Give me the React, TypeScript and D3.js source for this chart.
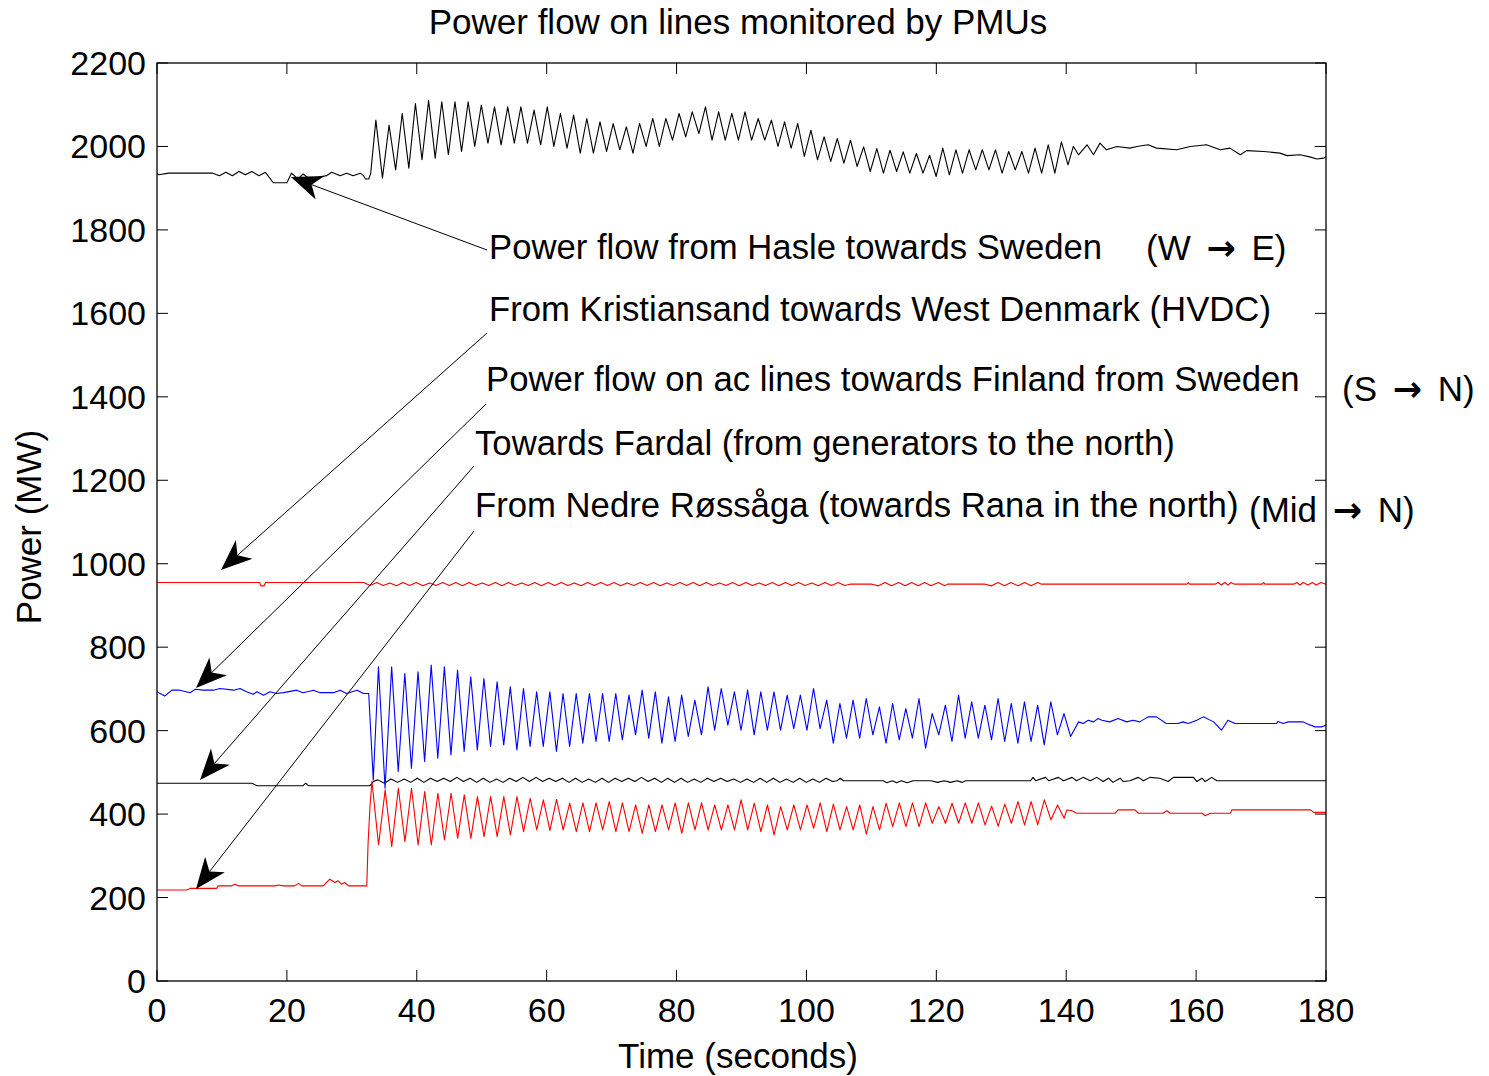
import React from "react";
import * as d3 from "d3";

type P = [number, number];

const xTicks = [0, 20, 40, 60, 80, 100, 120, 140, 160, 180];
const yTicks = [0, 200, 400, 600, 800, 1000, 1200, 1400, 1600, 1800, 2000, 2200];

const PERIOD = 2.03;

// ---- Power flow from Hasle towards Sweden (black, top)
const hasleLead: P[] = [[0,1935],[0.3,1932],[1.8,1936],[8.6,1936],[9.6,1930],[10.6,1938],[11.6,1930],[12.6,1940],[13.6,1932],[14.6,1940],[15.7,1930],[16.7,1938],[17.9,1913],[20.0,1913],[20.7,1936],[21.7,1922],[22.5,1934],[23.5,1922],[26.1,1930],[26.9,1938],[28.2,1930],[29.2,1936],[30.2,1930],[31.3,1936],[31.8,1930],[32.1,1922],[32.6,1922],[32.9,1935]];
const hasleStart = 33.7;
const haslePeaks = [2063,2051,2079,2103,2110,2107,2107,2107,2099,2095,2095,2095,2087,2095,
  2079,2075,2067,2059,2055,2047,2055,2067,2067,2079,2083,2095,2083,2079,2083,2067,2063,2059,2055,2039,2023,2019,2015,1999,1995,1991,1987,1983,1979,
  1996,1992,1992,1992,1992,1988,1988,1996,2004,2011];
const hasleTroughs = [1924,1944,1948,1968,1972,1980,1988,2000,2008,2004,2008,2008,2004,
  2000,1996,1984,1984,1988,1992,1984,2000,2000,2015,2023,2031,2015,2015,2015,2015,2015,2000,1996,1976,1968,1964,1960,1952,1940,1936,1940,1936,1936,1928,
  1932,1936,1944,1944,1936,1944,1936,1936,1936,1956];
const hasleTail: P[] = [[141.1,2000],[141.9,1980],[143.2,2004],[144.2,1980],[145.2,2008],[146.2,1992],[147.8,2000],[149.8,1996],[150.9,2000],[152.6,2004],[153.9,1996],[157.0,1992],[159.1,2000],[161.6,2004],[163.7,1992],[165.2,1996],[166.8,1980],[167.8,1990],[170.4,1988],[172.9,1984],[174.0,1978],[176.0,1980],[177.5,1975],[178.6,1970],[179.6,1972],[180,1975]];

// ---- Kristiansand towards West Denmark (HVDC) (red, ~950)
const hvdcLead: P[] = [[0,955],[15.8,955],[16.0,947],[16.5,947],[16.7,955],[31.0,955]];
const hvdcStart = 31.8;
const hvdcPeaks = [955,955,954,955,955,954,955,955,955,954,955,955,954,955,955,955,954,955,955,955,954,955,955,954,955,955,955,954,955,955,954,955,955,955,954,955,955];
const hvdcTroughs = [948,948,947,948,947,948,948,947,948,948,947,948,948,947,948,948,947,948,948,947,948,948,947,948,948,947,948,948,947,948,948,947,948,948,947,948,948];
const hvdcTail: P[] = [[106.7,951],[110.1,951],[111.1,947],[112.1,955],[113.1,947],[114.2,955],[115.2,947],[116.2,955],[117.2,947],[118.2,955],[119.2,947],[120.3,955],[121.3,947],[121.7,951],[127.5,951],[128.5,947],[129.5,955],[130.5,947],[131.5,955],[132.6,947],[133.6,955],[134.6,947],[135.6,955],[136.2,951],[158.6,951],[158.8,955],[159.0,951],[162.9,951],[163.4,955],[163.9,949],[164.4,955],[164.9,949],[165.4,955],[165.9,951],[170.2,951],[170.4,955],[170.6,951],[175.0,951],[175.5,955],[176.0,949],[176.5,955],[177.2,949],[177.9,955],[178.5,949],[179.2,955],[180,951]];

// ---- Power flow on ac lines towards Finland from Sweden (blue)
const finLead: P[] = [[0,693],[1.2,683],[2.3,697],[3.5,697],[5.1,691],[5.9,699],[7.1,697],[8.7,697],[9.7,701],[11.8,697],[12.8,701],[13.8,693],[14.8,687],[15.4,693],[16.4,685],[17.4,693],[18.4,689],[19.5,691],[21.5,697],[22.5,691],[24.1,697],[25.1,691],[27.2,691],[28.2,697],[29.2,689],[30.8,697],[31.8,689],[32.6,689],[33.3,482]];
const finStart = 34.1;
const finPeaks = [753,753,737,741,757,753,745,729,725,717,705,701,693,
  693,689,689,689,689,689,685,697,693,681,685,673,705,701,693,697,693,693,685,685,701,673,665,673,677,657,665,653,677,641,
  661,685,669,661,677,665,669,661,669,641];
const finTroughs = [462,502,510,526,534,542,550,554,562,566,554,562,562,
  550,562,570,574,574,578,590,582,570,574,586,590,601,613,601,590,601,601,605,601,605,570,582,582,590,570,578,582,558,
  590,574,582,582,578,574,570,574,566,590,586];
const finTail: P[] = [[141.9,621],[142.6,617],[143.4,625],[144.2,621],[144.9,629],[145.5,625],[146.7,621],[148.0,629],[149.3,621],[150.3,625],[151.3,621],[152.6,633],[153.9,633],[155.4,617],[157.2,617],[158.0,621],[158.8,617],[160.1,625],[161.1,633],[162.7,621],[163.9,601],[164.9,625],[166.0,617],[172.4,617],[172.6,622],[173.4,617],[174.2,621],[176.5,621],[177.0,617],[178.3,609],[179.3,609],[180,613]];

// ---- Towards Fardal (black, ~470)
const fardalLead: P[] = [[0,474],[14.6,474],[15.4,468],[22.5,468],[22.9,474],[23.3,468],[32.8,468],[33.3,478]];
const fardalStart = 34.0;
const fardalPeaks = [482,484,484,486,486,486,488,486,486,484,486,488,488,486,486,486,484,486,486,486,488,486,486,486,484,486,486,484,484,486,486,484,486,484,486];
const fardalTroughs = [474,476,476,476,478,478,478,476,476,476,478,478,478,478,476,476,476,476,478,478,478,476,476,476,476,478,478,476,476,476,476,476,476,476,478];
const fardalTail: P[] = [[104.7,480],[105.2,486],[105.7,480],[111.8,480],[112.4,475],[113.2,480],[113.9,475],[114.6,480],[115.5,475],[116.4,480],[119.2,480],[120.2,476],[121.2,480],[122.2,476],[123.2,480],[124.0,476],[124.5,480],[134.5,480],[134.9,488],[135.3,480],[136.8,488],[137.3,480],[138.8,488],[139.6,480],[140.9,488],[141.6,480],[142.6,488],[143.7,480],[144.7,488],[145.7,478],[146.5,486],[147.2,476],[148.3,486],[148.8,478],[149.8,480],[151.1,488],[151.9,480],[152.9,488],[154.4,486],[155.7,478],[156.5,488],[159.6,488],[160.1,478],[160.9,486],[161.4,478],[162.4,488],[163.2,480],[180,480]];

// ---- From Nedre Røssåga (red, bottom)
const rossagaLead: P[] = [[0,218],[4.6,218],[5.1,222],[9.2,222],[9.4,228],[11.5,228],[12.0,232],[12.5,228],[18.2,228],[18.7,230],[19.5,228],[21.2,228],[21.8,234],[22.3,228],[25.6,228],[26.6,244],[27.4,236],[27.9,240],[28.4,232],[28.9,236],[29.5,228],[32.3,228],[32.5,330],[32.8,420]];
const rossagaStart = 33.1;
const rossagaPeaks = [478,458,462,462,454,450,450,446,442,442,442,442,438,434,
  435,426,427,427,430,427,422,422,422,427,427,427,422,422,434,426,422,418,422,422,427,424,418,422,418,426,427,427,427,418,
  426,427,427,419,424,430,430,434,422];
const rossagaTroughs = [326,322,334,326,326,338,342,342,346,346,350,358,362,
  361,362,358,358,362,358,358,354,358,362,354,362,362,362,362,362,358,350,362,362,366,358,362,362,352,362,370,370,370,378,
  378,378,378,374,371,378,374,374,386,390];
const rossagaTail: P[] = [[140.1,410],[140.9,408],[141.6,402],[147.5,402],[148.0,410],[150.6,410],[151.1,402],[154.9,402],[155.5,408],[156.0,402],[160.9,402],[161.4,396],[162.2,402],[165.3,402],[165.5,410],[177.6,410],[178.1,404],[180,404]];

const annotations = [
  "Power flow from Hasle towards Sweden",
  "From Kristiansand towards West Denmark (HVDC)",
  "Power flow on ac lines towards Finland from Sweden",
  "Towards Fardal (from generators to the north)",
  "From Nedre Røssåga (towards Rana in the north)",
];
const directions: [string, string][] = [["(W ", "E)"], ["(S ", "N)"], ["(Mid ", "N)"]];

function buildSeries(lead: P[], start: number, peaks: number[], troughs: number[], tail: P[]): P[] {
  const pts: P[] = [...lead];
  peaks.forEach((p, i) => {
    pts.push([start + i * PERIOD, p]);
    pts.push([start + (i + 0.5) * PERIOD, troughs[i]]);
  });
  return pts.concat(tail);
}

const FONT = "Arial, 'Liberation Sans', sans-serif";

function Arrow({ x1, y1, x2, y2 }: { x1: number; y1: number; x2: number; y2: number }) {
  const dx = x1 - x2, dy = y1 - y2;
  const len = Math.hypot(dx, dy);
  const ux = dx / len, uy = dy / len;
  const nx = -uy, ny = ux;
  const L = 31, Wd = 12.5, N = 22;
  const p1 = [x2 + ux * L + nx * Wd, y2 + uy * L + ny * Wd];
  const p2 = [x2 + ux * N, y2 + uy * N];
  const p3 = [x2 + ux * L - nx * Wd, y2 + uy * L - ny * Wd];
  return (
    <g>
      <line x1={x1} y1={y1} x2={p2[0]} y2={p2[1]} stroke="#000" strokeWidth={1} />
      <path d={`M${x2},${y2}L${p1[0]},${p1[1]}L${p2[0]},${p2[1]}L${p3[0]},${p3[1]}Z`} fill="#000" />
    </g>
  );
}

export default function App() {
  const W = 1489, H = 1076;
  const left = 157, right = 1326, top = 63, bottom = 981;
  const x = d3.scaleLinear().domain([0, 180]).range([left, right]);
  const y = d3.scaleLinear().domain([0, 2200]).range([bottom, top]);
  const line = d3.line<P>().x((d) => x(d[0])).y((d) => y(d[1]));

  const series = [
    { d: buildSeries(hasleLead, hasleStart, haslePeaks, hasleTroughs, hasleTail), c: "#000" },
    { d: buildSeries(hvdcLead, hvdcStart, hvdcPeaks, hvdcTroughs, hvdcTail), c: "#ff0000" },
    { d: buildSeries(fardalLead, fardalStart, fardalPeaks, fardalTroughs, fardalTail), c: "#000" },
    { d: buildSeries(rossagaLead, rossagaStart, rossagaPeaks, rossagaTroughs, rossagaTail), c: "#ff0000" },
    { d: buildSeries(finLead, finStart, finPeaks, finTroughs, finTail), c: "#0000ff" },
  ];

  const tickLen = 11;
  const fs = 34;
  const fsT = 35;
  const fsA = 34.7;

  const textPos = [
    { x: 489, y: 259 },
    { x: 489, y: 321 },
    { x: 486, y: 391 },
    { x: 475, y: 455 },
    { x: 475, y: 517 },
  ];
  const dirPos = [
    { x: 1146, y: 260 },
    { x: 1342, y: 401 },
    { x: 1249, y: 522 },
  ];
  const arrows = [
    { x1: 487, y1: 250, x2: 291, y2: 177 },
    { x1: 487, y1: 333, x2: 221, y2: 570 },
    { x1: 486, y1: 404, x2: 196, y2: 688 },
    { x1: 474, y1: 466, x2: 200, y2: 780 },
    { x1: 474, y1: 531, x2: 196, y2: 889 },
  ];

  return (
    <div style={{ position: "absolute", left: 0, top: 0 }}>
      <svg width={W} height={H} style={{ display: "block", background: "#fff" }} fontFamily={FONT}>
        <rect x={0} y={0} width={W} height={H} fill="#fff" />
        {series.map((s, i) => (
          <path key={i} d={line(s.d) || ""} fill="none" stroke={s.c} strokeWidth={1.1} strokeLinejoin="round" />
        ))}
        <rect x={left} y={top} width={right - left} height={bottom - top} fill="none" stroke="#000" strokeWidth={1.3} />
        {xTicks.map((t) => (
          <g key={"x" + t}>
            <line x1={x(t)} x2={x(t)} y1={bottom} y2={bottom - tickLen} stroke="#000" strokeWidth={1} />
            <line x1={x(t)} x2={x(t)} y1={top} y2={top + tickLen} stroke="#000" strokeWidth={1} />
            <text x={x(t)} y={bottom + 41} textAnchor="middle" fontSize={fs} fill="#000">{t}</text>
          </g>
        ))}
        {yTicks.map((t) => (
          <g key={"y" + t}>
            <line x1={left} x2={left + tickLen} y1={y(t)} y2={y(t)} stroke="#000" strokeWidth={1} />
            <line x1={right} x2={right - tickLen} y1={y(t)} y2={y(t)} stroke="#000" strokeWidth={1} />
            <text x={left - 11} y={y(t) + 12} textAnchor="end" fontSize={fs} fill="#000">{t}</text>
          </g>
        ))}
        <text x={738} y={34} textAnchor="middle" fontSize={fsT} fill="#000">Power flow on lines monitored by PMUs</text>
        <text x={738} y={1068} textAnchor="middle" fontSize={fsT} fill="#000">Time (seconds)</text>
        <text transform={`translate(41,527) rotate(-90)`} textAnchor="middle" fontSize={fsT} fill="#000">Power (MW)</text>
        {annotations.map((a, i) => (
          <text key={"a" + i} x={textPos[i].x} y={textPos[i].y} fontSize={fsA} fill="#000">{a}</text>
        ))}
        {directions.map((a, i) => (
          <text key={"d" + i} x={dirPos[i].x} y={dirPos[i].y} fontSize={fsT} fill="#000" style={{ whiteSpace: "pre" }}>
            {a[0]}
            <tspan dx={6} fontFamily="'DejaVu Sans', sans-serif" fontWeight="bold" fontSize={fsT}>{"\u2192"}</tspan>
            <tspan dx={6}>{" " + a[1]}</tspan>
          </text>
        ))}
        {arrows.map((a, i) => (
          <Arrow key={"ar" + i} {...a} />
        ))}
      </svg>
    </div>
  );
}
